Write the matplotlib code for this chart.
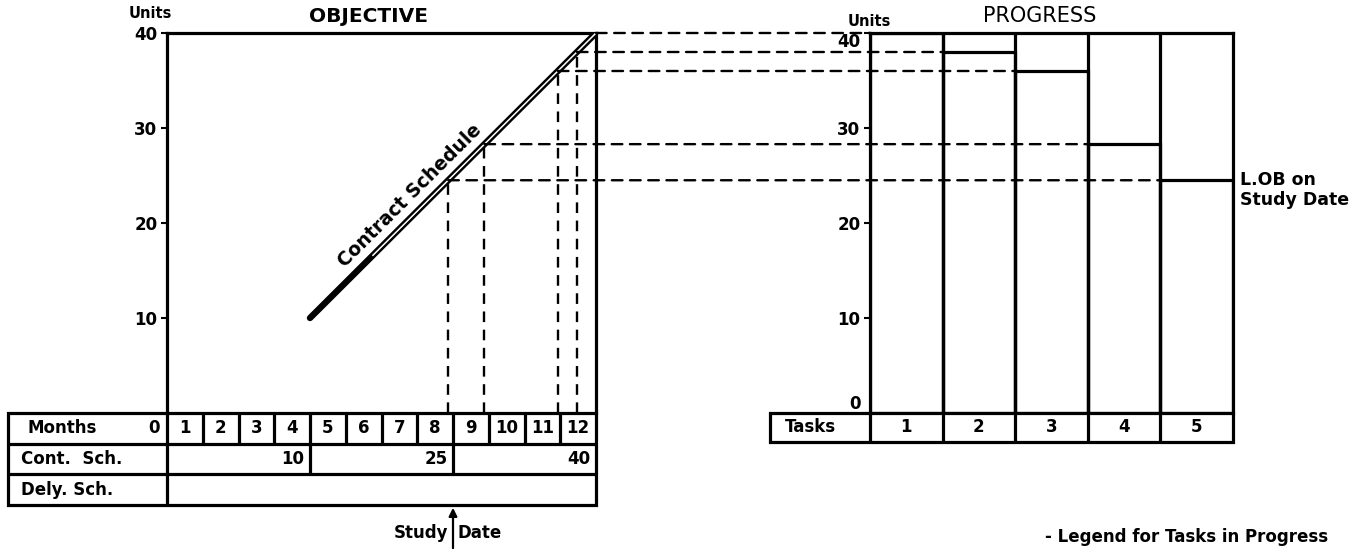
import matplotlib
matplotlib.use('Agg')
import matplotlib.pyplot as plt
import numpy as np
from matplotlib.patches import ConnectionPatch, Rectangle

# ---------------- data ----------------
month_numbers = list(range(1, 13))
month_labels = [str(m) for m in month_numbers]
sched_months = [4, 12]          # Contract schedule line (months)
sched_units = [10, 40]          # Contract schedule line (units)
cont_sch_months = [4, 8, 12]    # Cont. Sch. cumulative checkpoints
cont_sch_values = [10, 25, 40]
study_month = 8
tasks = [1, 2, 3, 4, 5]
task_labels = ['1', '2', '3', '4', '5']
lob_units = [40, 38, 36, 28.3, 24.5]   # line of balance per task on study date
left_yticks = [10, 20, 30, 40]
right_yticks = [0, 10, 20, 30, 40]
row_labels = ['Months', 'Cont.  Sch.', 'Dely. Sch.']

# ---------------- layout helpers ----------------
W, H = 1361, 549
fig = plt.figure(figsize=(W / 100, H / 100), dpi=100)
FONT = 'DejaVu Sans'
plt.rcParams['font.family'] = [FONT]


def px_axes(x0, y0, x1, y1):
    return fig.add_axes([x0 / W, 1 - y1 / H, (x1 - x0) / W, (y1 - y0) / H])


def ftext(x, y, s, **kw):
    fig.text(x / W, 1 - y / H, s, **kw)


LW = 2.3
DASH = (0, (4.5, 3.2))
TICKFS = 12

# ---------------- OBJECTIVE chart ----------------
axL = px_axes(167, 33, 596, 413)
axL.set_xlim(0, 12)
axL.set_ylim(0, 40)
axL.set_xticks([])
axL.set_yticks(left_yticks)
axL.set_yticklabels([str(v) for v in left_yticks], fontsize=TICKFS, fontweight='bold')
axL.tick_params(axis='y', direction='out', length=4, width=1.5, pad=3)
for s in ['left', 'top', 'right']:
    axL.spines[s].set_linewidth(LW)
axL.spines['bottom'].set_visible(False)

# contract schedule double line
axL.plot(sched_months, sched_units, color='black', lw=4.6, solid_capstyle='round', zorder=4)
fr = np.linspace(0.22, 1.0, 2)
axL.plot(np.interp(fr, [0, 1], sched_months), np.interp(fr, [0, 1], sched_units),
         color='white', lw=1.1, zorder=5)

# label along the line
pts = axL.transData.transform(np.column_stack([sched_months, sched_units]))
ang = np.degrees(np.arctan2(pts[1, 1] - pts[0, 1], pts[1, 0] - pts[0, 0]))
f = 0.39
axL.annotate('Contract Schedule',
             xy=(np.interp(f, [0, 1], sched_months), np.interp(f, [0, 1], sched_units)),
             xytext=(-8.4, 8.4), textcoords='offset points', rotation=ang,
             rotation_mode='anchor', ha='center', va='center',
             fontsize=13.5, fontweight='bold')

# LOB projection: point on schedule for each task's units
lob_months = np.interp(lob_units, sched_units, sched_months)
for m, u in zip(lob_months, lob_units):
    if m < 12:
        axL.plot([m, m], [0, u], color='black', lw=1.7, ls=DASH, zorder=3)

# ---------------- PROGRESS chart ----------------
axR = px_axes(870, 33, 1233, 413)
axR.set_xlim(0.5, 5.5)
axR.set_ylim(0, 40)
axR.set_xticks([])
axR.set_yticks(right_yticks)
axR.set_yticklabels([str(v) for v in right_yticks], fontsize=TICKFS, fontweight='bold')
axR.tick_params(axis='y', direction='out', length=4, width=1.5, pad=3)
ylabs = axR.get_yticklabels()
ylabs[-1].set_va('top')
ylabs[0].set_va('bottom')
for s in ['left', 'top', 'right']:
    axR.spines[s].set_linewidth(LW)
axR.spines['bottom'].set_visible(False)
axR.vlines([t + 0.5 for t in tasks[:-1]], 0, 40, color='black', lw=LW)
axR.bar(tasks, lob_units, width=1.0, fill=False, edgecolor='black', linewidth=LW)

axR.annotate('L.OB on\nStudy Date', xy=(5.5, lob_units[-1]), xytext=(5, 7),
             textcoords='offset points', ha='left', va='top',
             fontsize=12.5, fontweight='bold', linespacing=1.15,
             annotation_clip=False)

# dashed connectors between the two charts
for t, m, u in zip(tasks, lob_months, lob_units):
    con = ConnectionPatch(xyA=(m, u), coordsA=axL.transData,
                          xyB=(t - 0.5, u), coordsB=axR.transData,
                          color='black', lw=1.7, ls=DASH, zorder=3)
    fig.add_artist(con)

# ---------------- OBJECTIVE table ----------------
mpx = (596 - 167) / 12.0
axT = px_axes(8, 413, 596, 505)
axT.set_xlim(-(167 - 8) / mpx, 12)
axT.set_ylim(0, 3)
axT.axis('off')
x0 = axT.get_xlim()[0]
axT.add_patch(Rectangle((x0, 0), 12 - x0, 3, fill=False, lw=LW, ec='black', clip_on=False))
axT.hlines([1, 2], x0, 12, color='black', lw=LW, clip_on=False)
axT.vlines([0], 0, 3, color='black', lw=LW, clip_on=False)
axT.vlines(month_numbers[:-1], 2, 3, color='black', lw=LW, clip_on=False)
axT.vlines(cont_sch_months[:-1], 1, 2, color='black', lw=LW, clip_on=False)
TFS = 12
for m, lab in zip(month_numbers, month_labels):
    axT.text(m - 0.5, 2.5, lab, ha='center', va='center', fontsize=TFS, fontweight='bold')
axT.text(x0 + 0.55, 2.5, row_labels[0], ha='left', va='center', fontsize=TFS, fontweight='bold')
axT.text(-0.2, 2.5, '0', ha='right', va='center', fontsize=TFS, fontweight='bold')
axT.text(x0 + 0.35, 1.5, row_labels[1], ha='left', va='center', fontsize=TFS, fontweight='bold')
axT.text(x0 + 0.35, 0.5, row_labels[2], ha='left', va='center', fontsize=TFS, fontweight='bold')
for m, v in zip(cont_sch_months, cont_sch_values):
    axT.text(m - 0.15, 1.5, str(v), ha='right', va='center', fontsize=TFS, fontweight='bold')

# Study Date arrow
axT.annotate('', xy=(study_month, 0), xytext=(study_month, -1.5),
             arrowprops=dict(arrowstyle='-|>', color='black', lw=1.6, mutation_scale=12),
             annotation_clip=False)
axT.text(study_month - 0.12, -0.9, 'Study', ha='right', va='center', fontsize=12, fontweight='bold')
axT.text(study_month + 0.12, -0.9, 'Date', ha='left', va='center', fontsize=12, fontweight='bold')

# ---------------- PROGRESS table ----------------
tpx = (1233 - 870) / 5.0
axRT = px_axes(770, 413, 1233, 442)
axRT.set_xlim(0.5 - (870 - 770) / tpx, 5.5)
axRT.set_ylim(0, 1)
axRT.axis('off')
rx0 = axRT.get_xlim()[0]
axRT.add_patch(Rectangle((rx0, 0), 5.5 - rx0, 1, fill=False, lw=LW, ec='black', clip_on=False))
axRT.vlines([t - 0.5 for t in tasks], 0, 1, color='black', lw=LW, clip_on=False)
axRT.text(rx0 + 0.2, 0.5, 'Tasks', ha='left', va='center', fontsize=TFS, fontweight='bold')
for t, lab in zip(tasks, task_labels):
    axRT.text(t, 0.5, lab, ha='center', va='center', fontsize=TFS, fontweight='bold')

# ---------------- titles ----------------
ftext(150, 13, 'Units', ha='center', va='center', fontsize=10.5, fontweight='bold')
ftext(368, 16, 'OBJECTIVE', ha='center', va='center', fontsize=14.5, fontweight='bold')
ftext(869, 21, 'Units', ha='center', va='center', fontsize=10.5, fontweight='bold')
ftext(1040, 16, 'PROGRESS', ha='center', va='center', fontsize=15)
ftext(1045, 546, '- Legend for Tasks in Progress', ha='left', va='bottom',
      fontsize=12, fontweight='bold')

fig.savefig('out.png', dpi=100)
